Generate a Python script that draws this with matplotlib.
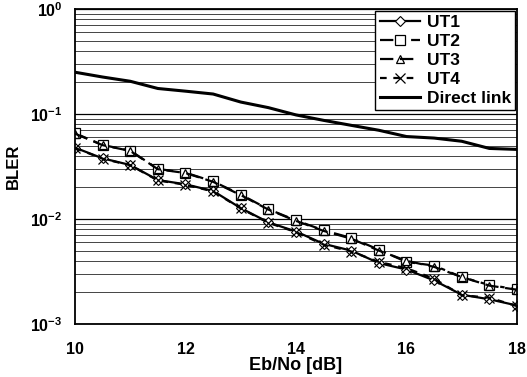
import numpy as np
import matplotlib
matplotlib.use("Agg")
import matplotlib.pyplot as plt
from matplotlib.ticker import LogLocator, NullFormatter

plt.rcParams['font.family'] = ['Liberation Sans', 'DejaVu Sans']
plt.rcParams['font.weight'] = 'bold'

ebno = [10, 10.5, 11, 11.5, 12, 12.5, 13, 13.5, 14, 14.5, 15, 15.5, 16, 16.5, 17, 17.5, 18]

ut1 = [0.0478, 0.0378, 0.0327, 0.0235, 0.0214, 0.0185, 0.0127, 0.0093, 0.0076, 0.0058,
       0.0050, 0.0038, 0.0033, 0.0026, 0.0019, 0.00172, 0.00150]
ut2 = [0.0655, 0.0507, 0.0448, 0.0300, 0.0276, 0.0228, 0.0171, 0.0124, 0.0097, 0.0078,
       0.0066, 0.0051, 0.0039, 0.0036, 0.0028, 0.00235, 0.00214]
ut3 = [0.0650, 0.0505, 0.0445, 0.0298, 0.0274, 0.0226, 0.0169, 0.0123, 0.0096, 0.0077,
       0.0065, 0.0050, 0.0040, 0.0035, 0.0028, 0.00232, 0.00212]
ut4 = [0.0475, 0.0375, 0.0325, 0.0233, 0.0212, 0.0183, 0.0126, 0.0092, 0.0075, 0.0057,
       0.0049, 0.0039, 0.0034, 0.0027, 0.00188, 0.00178, 0.00148]
direct = [0.25, 0.225, 0.205, 0.175, 0.165, 0.155, 0.13, 0.115, 0.098, 0.087,
          0.078, 0.07, 0.061, 0.059, 0.055, 0.047, 0.046]

fig = plt.figure(figsize=(5.27, 3.77), dpi=100)
ax = fig.add_axes([0.1423, 0.1406, 0.8387, 0.8355])

ax.semilogy(ebno, ut1, color='black', lw=1.6, ls='-', marker='D', ms=5,
            mfc='white', mec='black', mew=0.8, label='UT1')
ax.semilogy(ebno, ut2, color='black', lw=1.6, ls=(0, (6, 3, 2, 3)), marker='s', ms=6.5,
            mfc='white', mec='black', mew=0.9, label='UT2')
ax.semilogy(ebno, ut3, color='black', lw=1.6, ls=(0, (6, 3)), marker='^', ms=6,
            mfc='none', mec='black', mew=0.9, label='UT3')
ax.semilogy(ebno, ut4, color='black', lw=1.6, ls=(0, (3, 3)), marker='x', ms=7,
            mec='black', mew=0.9, label='UT4')
ax.semilogy(ebno, direct, color='black', lw=2.2, ls='-', label='Direct link')

ax.set_xlim(10, 18)
ax.set_ylim(1e-3, 1)
ax.set_xticks([10, 12, 14, 16, 18])
ax.yaxis.set_major_locator(LogLocator(base=10, numticks=10))
ax.yaxis.set_minor_locator(LogLocator(base=10, subs=np.arange(2, 10), numticks=20))
ax.yaxis.set_minor_formatter(NullFormatter())
ax.grid(True, which='major', axis='y', color='black', lw=0.9)
ax.grid(True, which='minor', axis='y', color='#444444', lw=0.7)
ax.tick_params(which='both', length=0, labelsize=11.5)
ax.tick_params(axis='x', pad=13)
ax.tick_params(axis='y', pad=9)
for lab in ax.get_xticklabels() + ax.get_yticklabels():
    lab.set_fontweight('bold')
for sp in ax.spines.values():
    sp.set_linewidth(1.3)

ax.set_xlabel('Eb/No [dB]', fontsize=13, fontweight='bold', labelpad=0)
ax.set_ylabel('BLER', fontsize=12, fontweight='bold')
ax.yaxis.set_label_coords(-0.122, 0.5)

leg = ax.legend(loc='upper right', fontsize=12.5, frameon=True, fancybox=False,
                edgecolor='black', framealpha=1, borderaxespad=0.1,
                handlelength=2.3, handletextpad=0.4, labelspacing=0.22,
                borderpad=0.25)
leg.get_frame().set_linewidth(1.0)
for t in leg.get_texts():
    t.set_fontweight('bold')

fig.savefig('out.png', dpi=100)
